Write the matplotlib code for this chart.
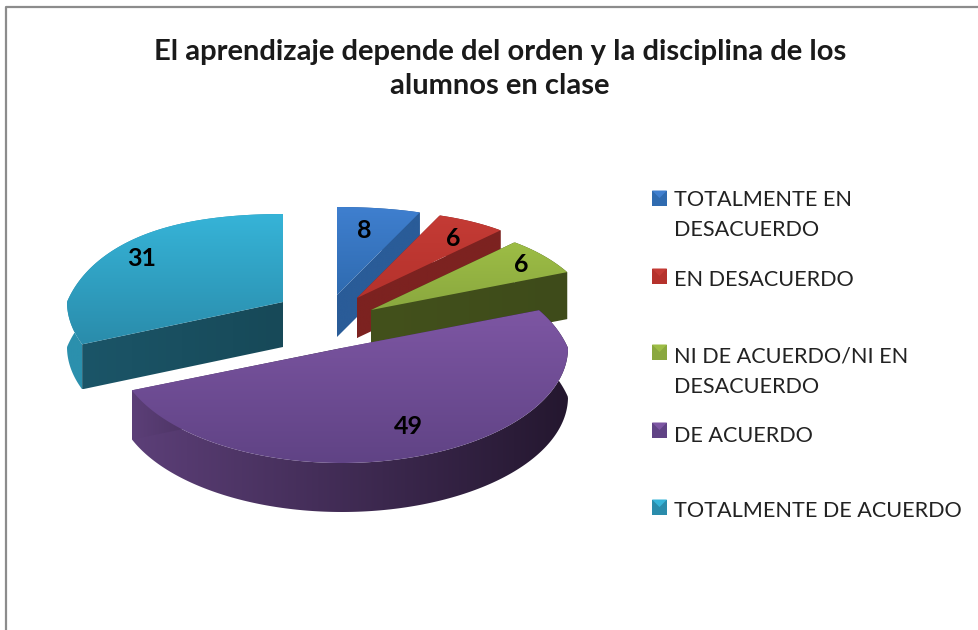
import numpy as np
import matplotlib
matplotlib.use('Agg')
import matplotlib.pyplot as plt
from matplotlib.colors import to_rgb
from matplotlib.patches import Polygon, Rectangle

plt.rcParams['font.family'] = ['Lato', 'DejaVu Sans']

title = 'El aprendizaje depende del orden y la disciplina de los\nalumnos en clase'
categories = ['TOTALMENTE EN\nDESACUERDO', 'EN DESACUERDO', 'NI DE ACUERDO/NI EN\nDESACUERDO',
              'DE ACUERDO', 'TOTALMENTE DE ACUERDO']
values = [8, 6, 6, 49, 31]

# where each exploded slice has its tip, in picture pixels
apex_x = [337, 357, 371, 342, 283]
apex_y = [295, 298, 310, 348, 302]
radius = [225, 225, 225, 226, 216]
depth = [42, 40, 47, 49, 45]
label_x = [364, 453, 521, 408, 142]
label_y = [231, 238, 265, 427, 259]

top_light = ['#3f7fcf', '#c43b35', '#9dbd45', '#7d56a3', '#36b4d8']
top_dark = ['#2f6bb0', '#b5322c', '#8aa83f', '#604385', '#2a8cab']
wall_light = ['#2a5c98', '#7c2220', '#43511c', '#5c3f78', '#1b5568']
wall_dark = ['#2a5c98', '#7c2220', '#3e4b1a', '#24172f', '#174958']
rim_light = ['#2a5c98', '#7c2220', '#43511c', '#5c3f78', '#2b90ad']
rim_dark = ['#2a5c98', '#7c2220', '#3e4b1a', '#24172f', '#2b90ad']

legend_y = [198, 276, 352, 430, 507]
text_y = [215, 279.5, 372, 435.5, 511]


def project(i, theta):
    # squashed circle, the far side is drawn smaller like the tilted 3d pie
    u = np.cos(theta)
    v = np.sin(theta)
    x_scale = 1 - 0.27 * np.clip(v, 0, None)
    lift = np.where(v > 0, v * (138 - 50 * v), v * 115)
    return apex_x[i] + radius[i] * u * x_scale, apex_y[i] - lift


def gradient_fill(ax, pts, c1, c2, horizontal=False):
    pts = np.asarray(pts)
    t = np.linspace(0, 1, 256)
    rgb = np.outer(1 - t, to_rgb(c1)) + np.outer(t, to_rgb(c2))
    img = rgb[np.newaxis, :, :] if horizontal else rgb[:, np.newaxis, :]
    extent = [pts[:, 0].min(), pts[:, 0].max(), pts[:, 1].max(), pts[:, 1].min()]
    im = ax.imshow(img, extent=extent, aspect='auto', interpolation='bilinear', zorder=ax.zcount)
    patch = Polygon(pts, closed=True, transform=ax.transData, fc='none', ec='none')
    ax.add_patch(patch)
    im.set_clip_path(patch)
    ax.zcount += 1


fig = plt.figure(figsize=(9.79, 6.30), dpi=100)
ax = fig.add_axes([0, 0, 1, 1])
ax.zcount = 2

# frame of the chart area, only left and top show in the screenshot
ax.plot([6, 6, 979], [630, 7, 7], color='#8c8c8c', lw=1.6, zorder=1)

ax.text(500, 69, title, ha='center', va='center', fontsize=21, fontweight='bold',
        color='#1a1a1a', linespacing=1.42)

# slice angles, clockwise from twelve o'clock
fractions = np.array(values) / sum(values)
ends = np.pi / 2 - 2 * np.pi * np.cumsum(fractions)
starts = np.concatenate([[np.pi / 2], ends[:-1]])

for i in [0, 1, 2, 4, 3]:
    th = np.linspace(starts[i], ends[i], 200)
    ax_x, ax_y = project(i, th)
    arc = np.column_stack([ax_x, ax_y])
    apex = np.array([[apex_x[i], apex_y[i]]])
    down = np.array([0, depth[i]])

    # rim first, then the cut faces, then the top
    rim = np.vstack([arc, (arc + down)[::-1]])
    gradient_fill(ax, rim, rim_light[i], rim_dark[i], horizontal=True)
    for edge in [arc[0], arc[-1]]:
        face = [apex[0], edge, edge + down, apex[0] + down]
        gradient_fill(ax, face, wall_light[i], wall_dark[i], horizontal=True)
    gradient_fill(ax, np.vstack([apex, arc]), top_light[i], top_dark[i])

    ax.text(label_x[i], label_y[i], str(values[i]), ha='center', va='center', fontsize=18,
            fontweight='bold', color='black', zorder=100)

# legend keys are small bevelled squares
for i, cat in enumerate(categories):
    x0, x1 = 652, 667
    y0, y1 = legend_y[i] - 7.5, legend_y[i] + 7.5
    ax.add_patch(Rectangle((x0, y0), x1 - x0, y1 - y0, fc=top_dark[i], ec='none', zorder=90))
    ax.add_patch(Polygon([(x0, y0), (x1, y0), ((x0 + x1) / 2, (y0 + y1) / 2)], fc=top_light[i],
                         ec='none', zorder=91))
    txt = ax.text(674, text_y[i], cat, ha='left', va='center', fontsize=15.6, color='#222222',
                  linespacing=1.63, zorder=90)
    # last entry is cut by the bottom of the legend box
    txt.set_clip_path(Rectangle((600, 170), 379, 346, transform=ax.transData))

ax.set_xlim(0, 979)
ax.set_ylim(630, 0)
ax.axis('off')
fig.savefig('out.png', dpi=100, facecolor='white')
